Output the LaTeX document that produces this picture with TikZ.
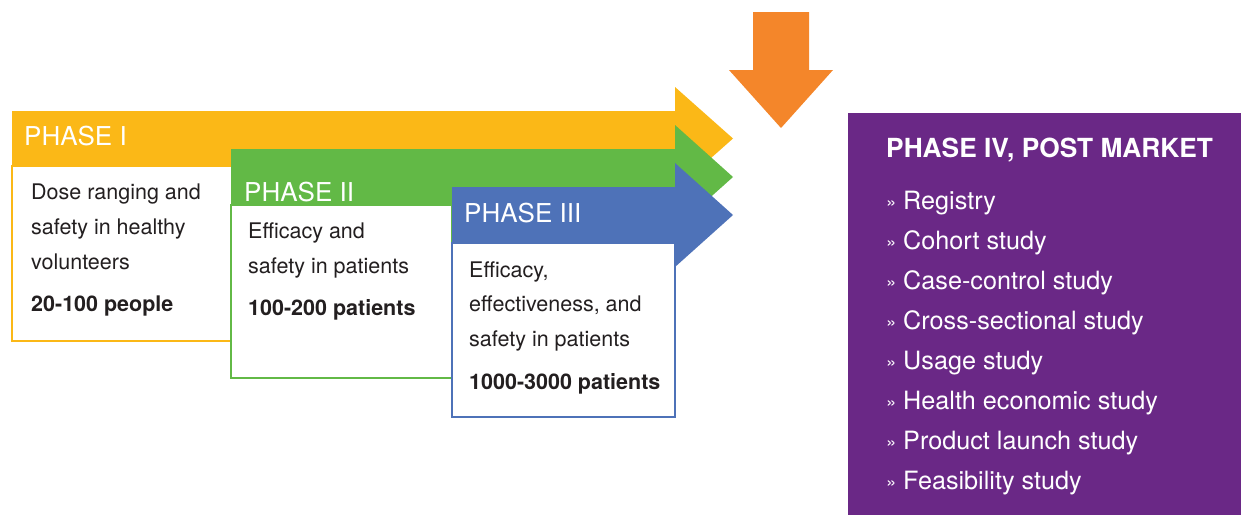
\documentclass[tikz,border=0pt]{standalone}
\usepackage{fontspec}
\setmainfont{TeX Gyre Heros}
\definecolor{phaseone}{HTML}{FBB817}
\definecolor{phasetwo}{HTML}{62B946}
\definecolor{phasethree}{HTML}{4E72B8}
\definecolor{launch}{HTML}{F4862A}
\definecolor{postmarket}{HTML}{6A2886}
\definecolor{ink}{HTML}{231F20}
% bullet for the post-market study list
\newcommand\pmitem[1]{\makebox[17pt][l]{\fontsize{18.5}{18}\selectfont\raisebox{1pt}{»}}#1}

\begin{document}
\begin{tikzpicture}[x=1pt,y=-1pt,
  title/.style={anchor=base west, inner sep=0, text=white, font=\fontsize{26}{30}\selectfont},
  body/.style={anchor=base west, inner sep=0, text=ink, font=\fontsize{21.5}{25}\selectfont},
  count/.style={anchor=base west, inner sep=0, text=ink, font=\fontsize{21.5}{25}\selectfont\bfseries},
  detail/.style={line width=2pt, fill=white},
  pmhead/.style={anchor=base west, inner sep=0, text=white, font=\fontsize{26.3}{30}\selectfont\bfseries},
  pmentry/.style={anchor=base west, inner sep=0, text=white, font=\fontsize{25.2}{28}\selectfont},
]
\useasboundingbox (0,0) rectangle (1241,515);

% Phase I: arrow band and description box
\fill[phaseone] (12,111) -- (675,111) -- (675,87) -- (733,138.5) -- (675,190) -- (675,166) -- (12,166) -- cycle;
\draw[detail, draw=phaseone] (12,166) rectangle (232,341);
\node[title] (p1title) at (24,145) {PHASE I};
\node[body] (p1a) at (31,199) {Dose ranging and};
\node[body] (p1b) at (31,234) {safety in healthy};
\node[body] (p1c) at (31,269) {volunteers};
\node[count] (p1n) at (31,311) {20-100 people};

% Phase II
\fill[phasetwo] (231,149) -- (675,149) -- (675,125) -- (733,177) -- (675,229) -- (675,205) -- (231,205) -- cycle;
\draw[detail, draw=phasetwo] (231,205) rectangle (452,378);
\node[title] (p2title) at (244,201) {PHASE II};
\node[body] (p2a) at (248,238) {Efficacy and};
\node[body] (p2b) at (248,273) {safety in patients};
\node[count] (p2n) at (248,315) {100-200 patients};

% Phase III
\fill[phasethree] (452,187) -- (675,187) -- (675,163) -- (733,215) -- (675,267) -- (675,243) -- (452,243) -- cycle;
\draw[detail, draw=phasethree] (452,243) rectangle (675,417);
\node[title] (p3title) at (464,222) {PHASE III};
\node[body] (p3a) at (469,277) {Efficacy,};
\node[body] (p3b) at (469,311) {effectiveness, and};
\node[body] (p3c) at (469,346) {safety in patients};
\node[count] (p3n) at (469,389) {1000-3000 patients};

% market launch arrow
\fill[launch] (753,12) -- (809,12) -- (809,70) -- (833,70) -- (781,128) -- (729,70) -- (753,70) -- cycle;

% Phase IV panel
\fill[postmarket] (848,113) rectangle (1241,515);
\node[pmhead] (p4title) at (886,157) {PHASE IV, POST MARKET};
\node[pmentry] (s1) at (886,209) {\pmitem{Registry}};
\node[pmentry] (s2) at (886,249) {\pmitem{Cohort study}};
\node[pmentry] (s3) at (886,289) {\pmitem{Case-control study}};
\node[pmentry] (s4) at (886,329) {\pmitem{Cross-sectional study}};
\node[pmentry] (s5) at (886,369) {\pmitem{Usage study}};
\node[pmentry] (s6) at (886,409) {\pmitem{Health economic study}};
\node[pmentry] (s7) at (886,449) {\pmitem{Product launch study}};
\node[pmentry] (s8) at (886,489) {\pmitem{Feasibility study}};
\end{tikzpicture}
\end{document}
